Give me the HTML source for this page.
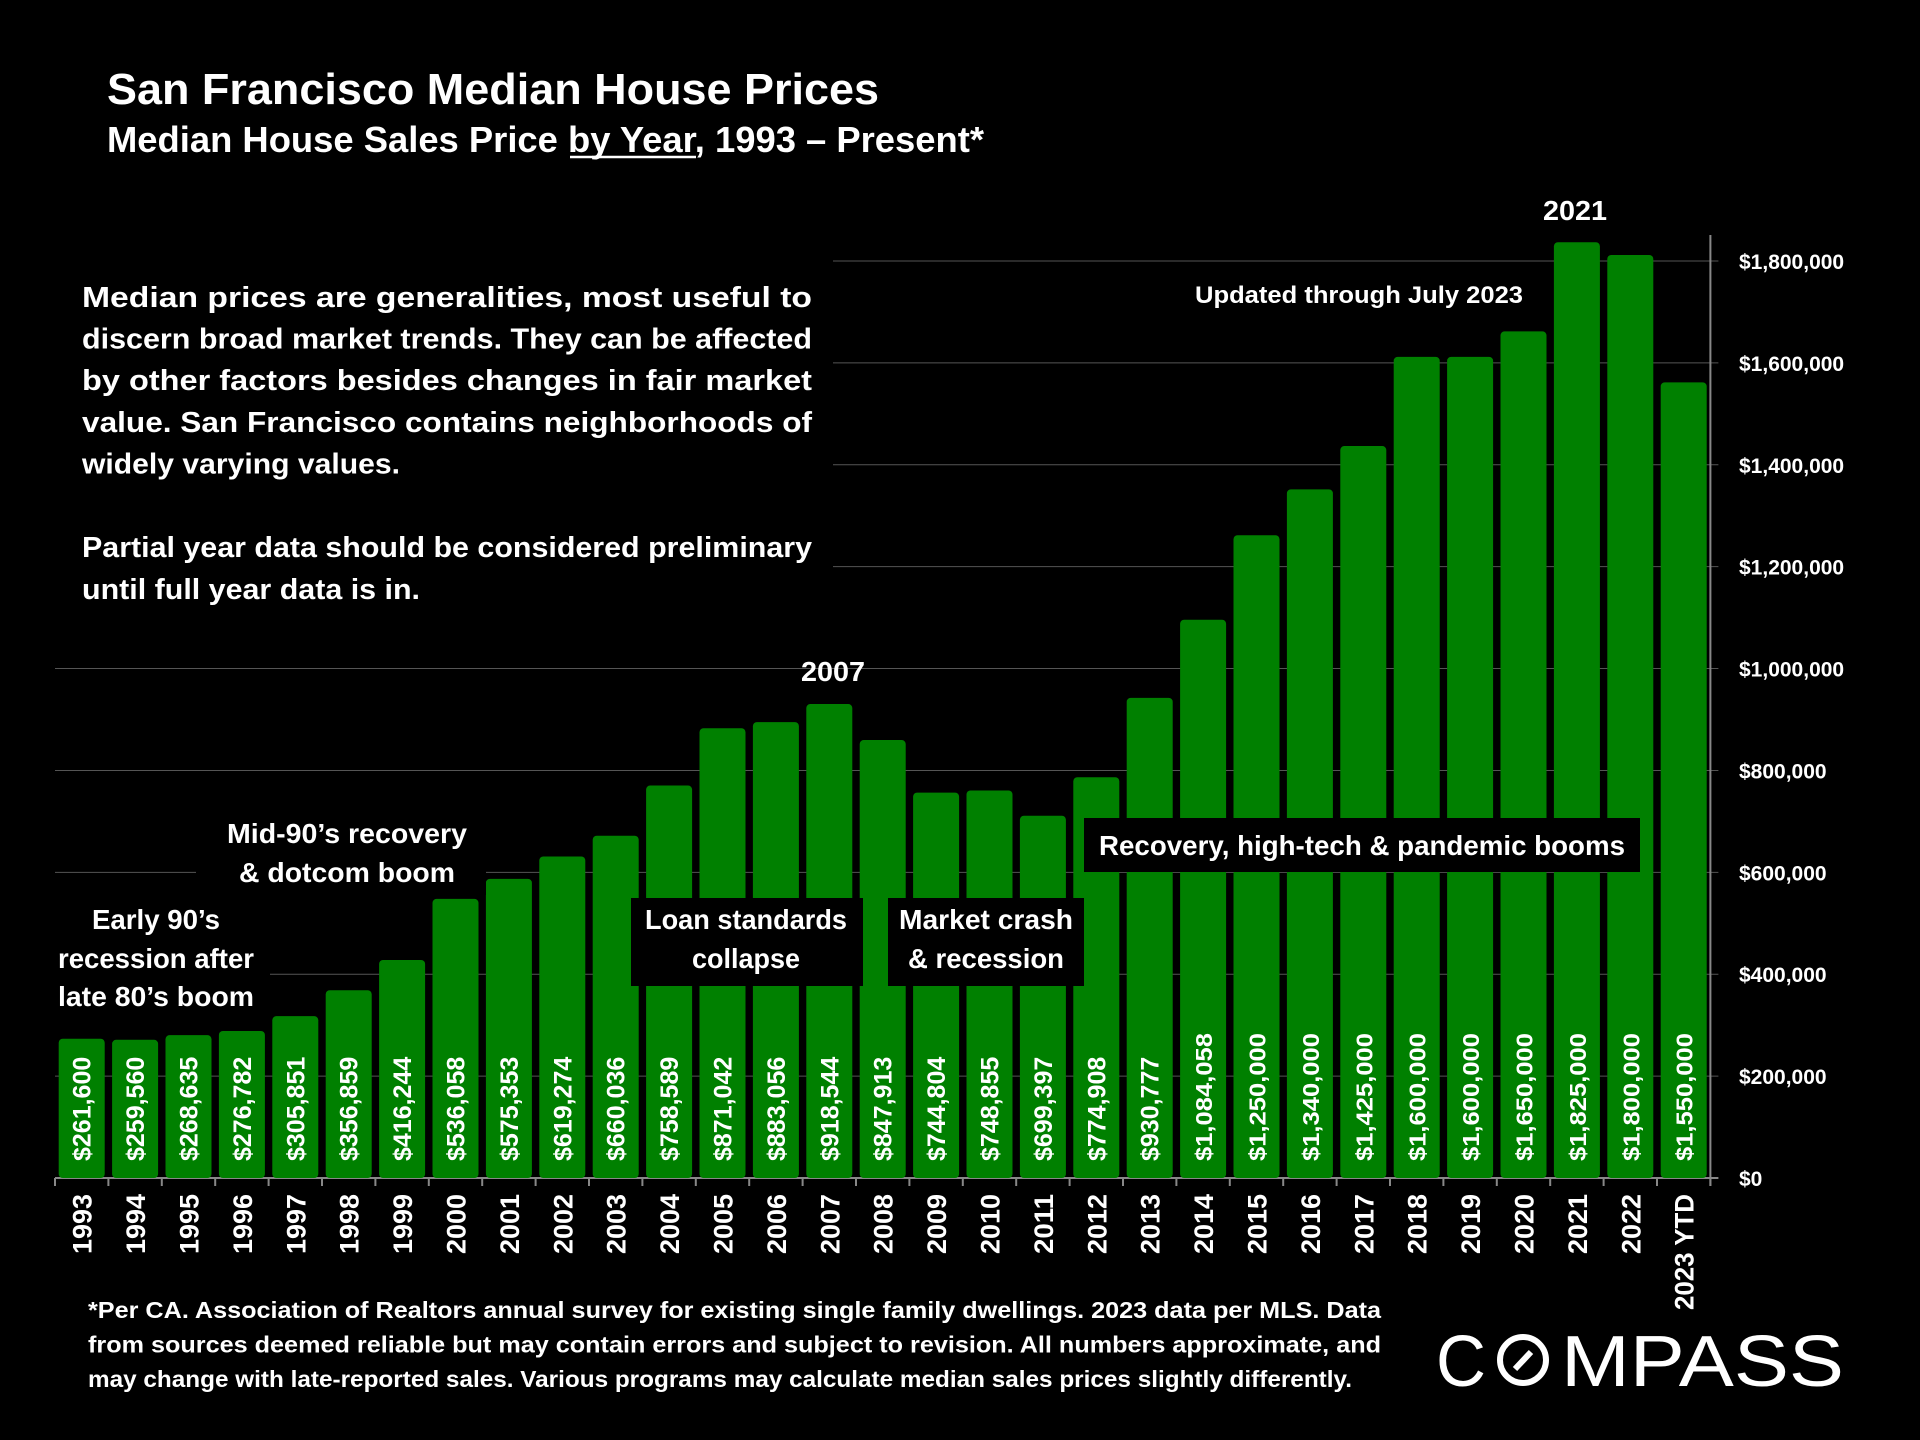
<!DOCTYPE html>
<html><head><meta charset="utf-8"><style>
html,body{margin:0;padding:0;background:#000;}
svg{display:block;}
text{font-family:"Liberation Sans",sans-serif;fill:#fff;font-weight:bold;}
text.thin{font-weight:normal;}
</style></head><body>
<svg id="chart" width="1920" height="1440" viewBox="0 0 1920 1440" xmlns="http://www.w3.org/2000/svg">
<rect width="1920" height="1440" fill="#000"/>
<text x="107" y="104" font-size="44" textLength="772" lengthAdjust="spacingAndGlyphs">San Francisco Median House Prices</text>
<text x="107" y="152" font-size="36" textLength="877" lengthAdjust="spacingAndGlyphs">Median House Sales Price by Year, 1993 – Present*</text>
<line x1="570" y1="157" x2="696" y2="157" stroke="#fff" stroke-width="2.5"/>
<g id="grid"></g>
<g id="bars"></g>
<g id="overlays"></g>
<g>
  <text class="thin" x="1436" y="1386" font-size="72" textLength="50" lengthAdjust="spacingAndGlyphs">C</text>
  <circle cx="1523" cy="1360" r="23" fill="none" stroke="#fff" stroke-width="6"/>
  <line x1="1515" y1="1369" x2="1531" y2="1352" stroke="#fff" stroke-width="6"/>
  <text class="thin" x="1561" y="1386" font-size="72" textLength="283" lengthAdjust="spacingAndGlyphs">MPASS</text>
</g>
</svg>
<script>
const years = ["1993","1994","1995","1996","1997","1998","1999","2000","2001","2002","2003","2004","2005","2006","2007","2008","2009","2010","2011","2012","2013","2014","2015","2016","2017","2018","2019","2020","2021","2022","2023 YTD"];
const prices = [261600,259560,268635,276782,305851,356859,416244,536058,575353,619274,660036,758589,871042,883056,918544,847913,744804,748855,699397,774908,930777,1084058,1250000,1340000,1425000,1600000,1600000,1650000,1825000,1800000,1550000];
const priceLabels = ["$261,600","$259,560","$268,635","$276,782","$305,851","$356,859","$416,244","$536,058","$575,353","$619,274","$660,036","$758,589","$871,042","$883,056","$918,544","$847,913","$744,804","$748,855","$699,397","$774,908","$930,777","$1,084,058","$1,250,000","$1,340,000","$1,425,000","$1,600,000","$1,600,000","$1,650,000","$1,825,000","$1,800,000","$1,550,000"];
const yTicks = [0,200000,400000,600000,800000,1000000,1200000,1400000,1600000,1800000];
const yTickLabels = ["$0","$200,000","$400,000","$600,000","$800,000","$1,000,000","$1,200,000","$1,400,000","$1,600,000","$1,800,000"];

const NS="http://www.w3.org/2000/svg";
const X0=55, STEP=53.4, Y0=1178, YTOP=261, VMAX=1800000, BW=46, CAP=6;
const yScale=v=>Y0-(v/VMAX)*(Y0-YTOP);
const xCenter=i=>X0+STEP*(i+0.5);
const X1=X0+STEP*years.length;
function mk(tag,attrs,parent){const e=document.createElementNS(NS,tag);for(const k in attrs)e.setAttribute(k,attrs[k]);parent.appendChild(e);return e;}
const grid=document.getElementById('grid'), bars=document.getElementById('bars'), ov=document.getElementById('overlays');

yTicks.forEach((t,i)=>{
  const y=yScale(t);
  const l=mk('line',{x1:X0,x2:X1+8,y1:y,y2:y,stroke:i===0?'#888':'#555','stroke-width':i===0?2:1},grid);
  
  
  const tx=mk('text',{x:1739,y:y+8,'font-size':21,'font-family':'DejaVu Sans, sans-serif'},grid);
  
  
  tx.textContent=yTickLabels[i];
});
const ax=mk('line',{x1:X1,x2:X1,y1:235,y2:Y0+8,stroke:'#888','stroke-width':2},grid);


for(let i=0;i<=years.length;i++){
  const tk=mk('line',{x1:X0+STEP*i,x2:X0+STEP*i,y1:Y0,y2:Y0+8,stroke:'#888','stroke-width':2},grid);
  
  
}
prices.forEach((v,i)=>{
  const cx=xCenter(i), y=yScale(v)-CAP;
  const r=mk('rect',{x:cx-BW/2,y:y,width:BW,height:Y0-y,rx:4,fill:'#008000'},bars);
  
  
  const condensed=i>=21;
  const vl=mk('text',{x:cx+9,y:1161,'font-size':condensed?23:25,transform:`rotate(-90 ${cx+9} 1161)`},bars);
  
  
  if(condensed){vl.setAttribute('textLength','128');vl.setAttribute('lengthAdjust','spacingAndGlyphs');}
  vl.textContent=priceLabels[i];
  const yl=mk('text',{x:cx+10,y:1194,'font-size':27,'text-anchor':'end',transform:`rotate(-90 ${cx+10} 1194)`},bars);
  
  
  if(years[i].length===4){yl.setAttribute('textLength','60');yl.setAttribute('lengthAdjust','spacingAndGlyphs');}
  else{yl.setAttribute('textLength','116');yl.setAttribute('lengthAdjust','spacingAndGlyphs');}
  yl.textContent=years[i];
});

function box(name,x,y,w,h){const b=mk('rect',{x:x,y:y,width:w,height:h,fill:'#000'},ov);}
function txt(name,x,y,size,s,anchor,len){const t=mk('text',{x:x,y:y,'font-size':size,'text-anchor':anchor||'middle'},ov);if(len){t.setAttribute('textLength',len);t.setAttribute('lengthAdjust','spacingAndGlyphs');}t.textContent=s;return t;}

box('note-box',55,250,778,362);
const noteLines=["Median prices are generalities, most useful to","discern broad market trends. They can be affected","by other factors besides changes in fair market","value. San Francisco contains neighborhoods of","widely varying values."];
noteLines.forEach((s,i)=>txt('note-text',82,307+i*41.6,29,s,'start',i===4?318:730));
txt('note-text',82,557,29,"Partial year data should be considered preliminary",'start',730);
txt('note-text',82,599,29,"until full year data is in.",'start',338);

box('annotation-early90s-box',55,900,215,120);
txt('annotation-early90s',156,929,28,"Early 90’s",'middle',128);
txt('annotation-early90s',156,968,28,"recession after",'middle',196);
txt('annotation-early90s',156,1006,28,"late 80’s boom",'middle',196);
box('annotation-mid90s-box',196,815,290,80);
txt('annotation-mid90s',347,843,28,"Mid-90’s recovery",'middle',240);
txt('annotation-mid90s',347,882,28,"& dotcom boom",'middle',216);
box('annotation-loan-box',631,898,232,88);
txt('annotation-loan',746,929,28,"Loan standards",'middle',202);
txt('annotation-loan',746,968,28,"collapse",'middle',108);
box('annotation-crash-box',888,898,196,88);
txt('annotation-crash',986,929,28,"Market crash",'middle',174);
txt('annotation-crash',986,968,28,"& recession",'middle',156);
box('annotation-recovery-box',1084,818,556,54);
txt('annotation-recovery',1362,855,28,"Recovery, high-tech & pandemic booms",'middle',526);
txt('label-2007',833,681,28,"2007",'middle',64);
txt('label-2021',1575,220,28,"2021",'middle',64);
txt('updated-note',1359,303,24,"Updated through July 2023",'middle',328);

const foot=["*Per CA. Association of Realtors annual survey for existing single family dwellings. 2023 data per MLS. Data","from sources deemed reliable but may contain errors and subject to revision. All numbers approximate, and","may change with late-reported sales. Various programs may calculate median sales prices slightly differently."];
foot.forEach((s,i)=>txt('footnote',88,1318+i*34.5,23,s,'start',i===2?1264:1293));
</script>
</body></html>
